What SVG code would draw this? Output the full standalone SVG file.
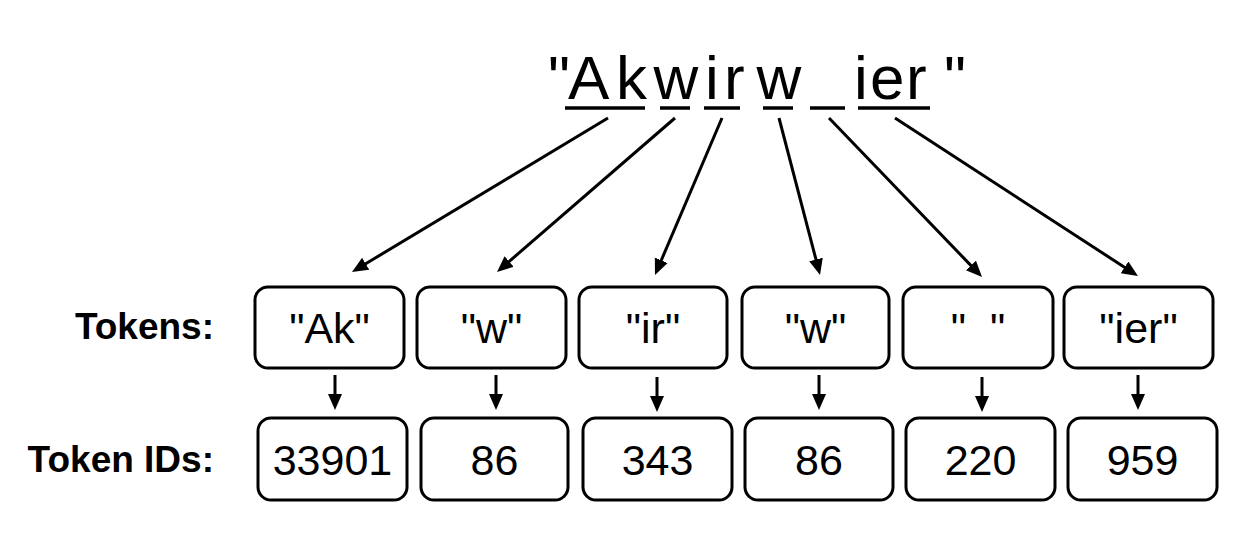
<svg xmlns="http://www.w3.org/2000/svg" width="1243" height="534" viewBox="0 0 1243 534">
<style>
.box{fill:#fff;stroke:#000;stroke-width:3}
.t{font-family:"Liberation Sans",Arial,sans-serif;font-size:43px;text-anchor:middle;fill:#000}
.lbl{font-family:"Liberation Sans",Arial,sans-serif;font-size:37px;font-weight:bold;text-anchor:end;fill:#000}
.title{font-family:"Liberation Sans",Arial,sans-serif;font-size:62px;fill:#000}
.ul{stroke:#000;stroke-width:3.5}
.arr{stroke:#000;stroke-width:3;fill:none;marker-end:url(#ah)}
</style>
<defs>
<marker id="ah" markerUnits="userSpaceOnUse" markerWidth="18" markerHeight="16" refX="4" refY="7" orient="auto">
<path d="M0,0 L16,7 L0,14 z" fill="#000"/>
</marker>
</defs>
<rect width="1243" height="534" fill="#fff"/>
<g id="title">
<text class="title" x="548 568 616 653.5 705 724 756.5 805 854 870 906 944" y="99">"Akwirw ier"</text>
<g class="ul">
<line x1="565" y1="108" x2="645" y2="108"/>
<line x1="660" y1="108" x2="690" y2="108"/>
<line x1="704" y1="108" x2="740" y2="108"/>
<line x1="763" y1="108" x2="793" y2="108"/>
<line x1="810" y1="108" x2="845" y2="108"/>
<line x1="858" y1="108" x2="930" y2="108"/>
</g>
</g>
<g id="labels">
<text class="lbl" x="214" y="339">Tokens:</text>
<text class="lbl" x="214" y="472">Token IDs:</text>
</g>
<g id="token-ak"><rect class="box" x="255" y="287" width="149" height="81" rx="13"/><text class="t" x="329.5" y="343">"Ak"</text></g>
<g id="token-w1"><rect class="box" x="417" y="287" width="149" height="81" rx="13"/><text class="t" x="491.5" y="343">"w"</text></g>
<g id="token-ir"><rect class="box" x="579" y="287" width="148" height="81" rx="13"/><text class="t" x="653" y="343">"ir"</text></g>
<g id="token-w2"><rect class="box" x="742" y="287" width="147" height="81" rx="13"/><text class="t" x="815.5" y="343">"w"</text></g>
<g id="token-space"><rect class="box" x="903" y="287" width="150" height="81" rx="13"/><text class="t" x="978" y="343" xml:space="preserve">"  "</text></g>
<g id="token-ier"><rect class="box" x="1064" y="287" width="149" height="81" rx="13"/><text class="t" x="1138.5" y="343">"ier"</text></g>
<g id="id-33901"><rect class="box" x="258" y="418" width="149" height="82" rx="13"/><text class="t" x="332.5" y="475">33901</text></g>
<g id="id-86a"><rect class="box" x="421" y="418" width="147" height="82" rx="13"/><text class="t" x="494.5" y="475">86</text></g>
<g id="id-343"><rect class="box" x="583" y="418" width="149" height="82" rx="13"/><text class="t" x="657.5" y="475">343</text></g>
<g id="id-86b"><rect class="box" x="745" y="418" width="148" height="82" rx="13"/><text class="t" x="819" y="475">86</text></g>
<g id="id-220"><rect class="box" x="906" y="418" width="149" height="82" rx="13"/><text class="t" x="980.5" y="475">220</text></g>
<g id="id-959"><rect class="box" x="1068" y="418" width="149" height="82" rx="13"/><text class="t" x="1142.5" y="475">959</text></g>
<g id="connectors">
<line class="arr" x1="608" y1="118" x2="362.3" y2="265.8"/>
<line class="arr" x1="675" y1="118" x2="506.1" y2="264.1"/>
<line class="arr" x1="722" y1="118" x2="659.7" y2="264"/>
<line class="arr" x1="779" y1="118" x2="817" y2="263.4"/>
<line class="arr" x1="829" y1="118" x2="973.7" y2="268.4"/>
<line class="arr" x1="895" y1="118" x2="1127.9" y2="269.5"/>
<line class="arr" x1="335" y1="375" x2="335" y2="398"/>
<line class="arr" x1="496" y1="375" x2="496" y2="398"/>
<line class="arr" x1="657" y1="377" x2="657" y2="400"/>
<line class="arr" x1="819" y1="375" x2="819" y2="398"/>
<line class="arr" x1="982" y1="377" x2="982" y2="400"/>
<line class="arr" x1="1138" y1="375" x2="1138" y2="398"/>
</g>
</svg>
